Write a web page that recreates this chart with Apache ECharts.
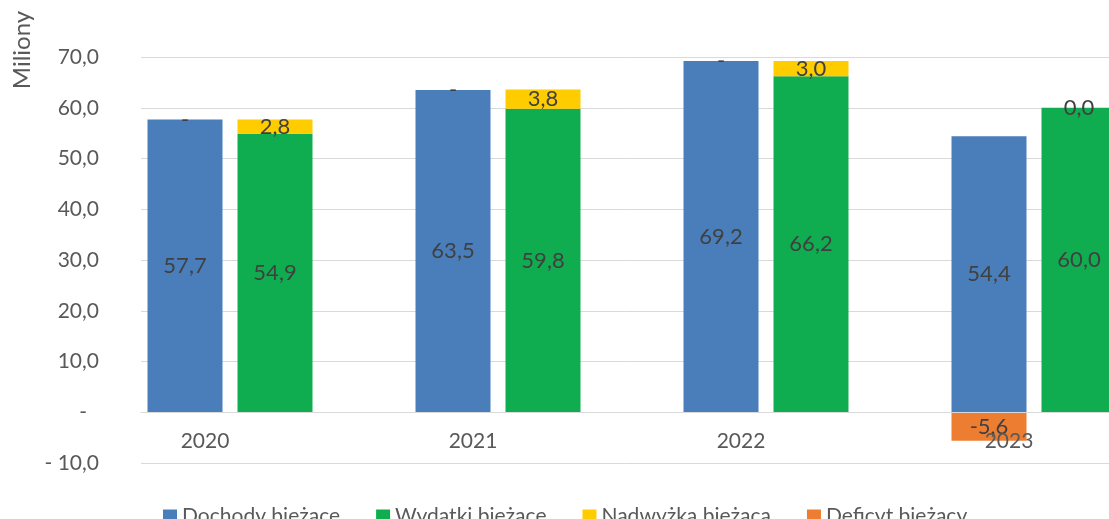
<!DOCTYPE html>
<html><head><meta charset="utf-8">
<script src="https://cdn.jsdelivr.net/npm/echarts@6/dist/echarts.min.js"></script>
<style>html,body{margin:0;padding:0;background:#fff}#c{width:1109px;height:519px}</style>
</head><body><div id="c"></div>
<script>
const categories = ['2020', '2021', '2022', '2023'];
const dochody = [57.7, 63.5, 69.2, 54.4];
const wydatki = [54.9, 59.8, 66.2, 60.0];
const nadwyzka = [2.8, 3.8, 3.0, 0.0];
const deficyt = [0, 0, 0, -5.6];
const emptySlot = [null, null, null, null];
const seriesNames = ['Dochody bieżące', 'Wydatki bieżące', 'Nadwyżka bieżąca', 'Deficyt bieżący'];
const yTicks = { min: -10, max: 70, interval: 10 };

const FONT = 'Lato';
const fmt = v => v.toFixed(1).replace('.', ',');
const lbl = (f) => ({ show: true, position: 'inside', color: '#404040', fontSize: 22, fontFamily: FONT, formatter: p => f(p.value) });

const chart = echarts.init(document.getElementById('c'));
chart.setOption({
  animation: false,
  textStyle: { fontFamily: FONT },
  grid: { left: 141, width: 1072, top: 57, height: 406, outerBoundsMode: 'none', containLabel: false },
  legend: {
    data: seriesNames, left: 158, top: 501, itemWidth: 14, itemHeight: 14, itemGap: 36,
    icon: 'rect', textStyle: { color: '#595959', fontSize: 21, fontFamily: FONT }
  },
  graphic: [{ type: 'text', x: 22, y: 50, rotation: Math.PI / 2,
    style: { text: 'Miliony', fill: '#595959', font: '24px ' + FONT, align: 'center', verticalAlign: 'middle' } }],
  xAxis: {
    type: 'category', data: categories, position: 'bottom', offset: -50.75, z: 5,
    axisLine: { onZero: false, lineStyle: { color: '#d9d9d9' } },
    axisTick: { show: false },
    axisLabel: { color: '#595959', fontSize: 21, fontFamily: FONT, margin: 18, padding: [0, 140, 0, 0] }
  },
  yAxis: {
    type: 'value', min: yTicks.min, max: yTicks.max, interval: yTicks.interval,
    axisLine: { show: false }, axisTick: { show: false },
    splitLine: { lineStyle: { color: '#d9d9d9' } },
    axisLabel: {
      color: '#595959', fontSize: 21, fontFamily: FONT, margin: 42,
      formatter: v => v === 0 ? '{z|-}' : (v < 0 ? '- ' + fmt(-v) : fmt(v)),
      rich: { z: { color: '#595959', fontSize: 21, fontFamily: FONT, padding: [0, 12, 0, 0] } }
    }
  },
  series: [
    { name: seriesNames[0], type: 'bar', stack: 'a', data: dochody, barWidth: 75, barGap: '20%',
      itemStyle: { color: '#4A7EBB' }, label: lbl(fmt) },
    { name: seriesNames[1], type: 'bar', stack: 'b', data: wydatki, barWidth: 75, barGap: '20%',
      itemStyle: { color: '#10AD50' }, label: lbl(fmt) },
    { name: seriesNames[2], type: 'bar', stack: 'b', data: nadwyzka, barWidth: 75,
      itemStyle: { color: '#FFCC00' }, label: lbl(fmt) },
    { name: seriesNames[3], type: 'bar', stack: 'a', data: deficyt, barWidth: 75,
      itemStyle: { color: '#ED7D31' }, label: lbl(v => v === 0 ? '-' : fmt(v)) },
    { name: 'empty', type: 'bar', stack: 'c', data: emptySlot, barWidth: 75, barGap: '20%' }
  ]
});
</script></body></html>
